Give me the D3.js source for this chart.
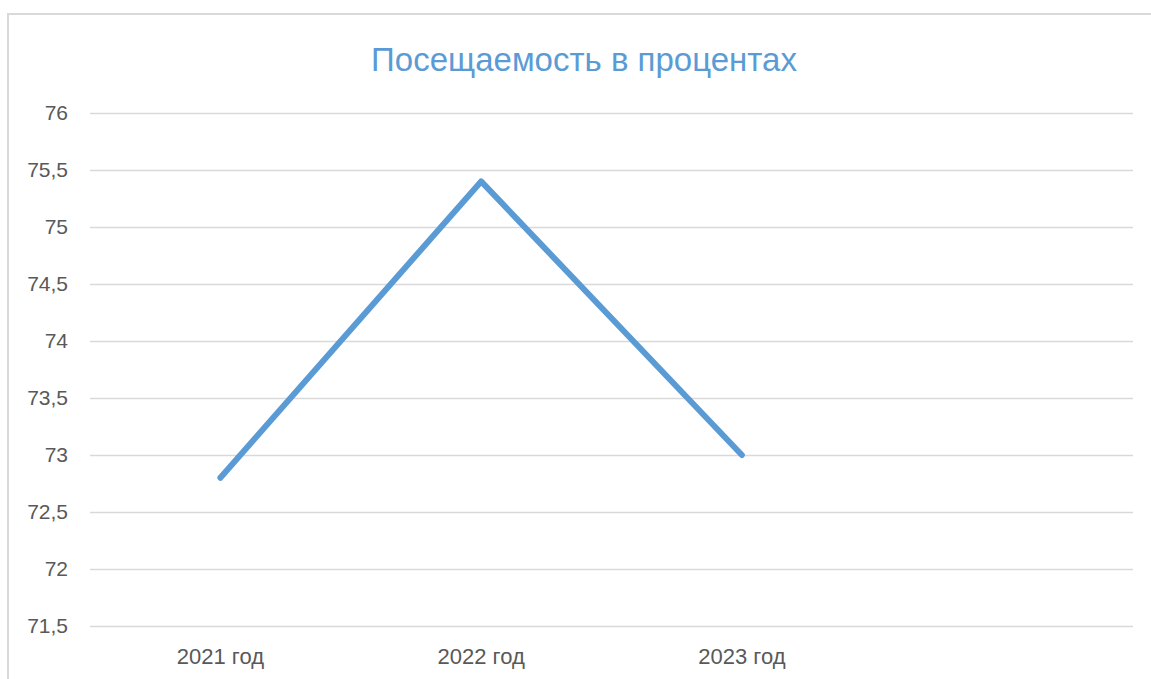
<!DOCTYPE html>
<html>
<head>
<meta charset="utf-8">
<script src="https://cdn.jsdelivr.net/npm/d3@7"></script>
<style>
  body { margin: 0; background: #fff; }
  text { font-family: "Liberation Sans", Arial, sans-serif; }
</style>
</head>
<body>
<svg id="chart" width="1151" height="679"></svg>
<script>
// data
var categories = ["2021 год", "2022 год", "2023 год", ""];
var values = [72.8, 75.4, 73];
var yTicks = [71.5, 72, 72.5, 73, 73.5, 74, 74.5, 75, 75.5, 76];
var title = "Посещаемость в процентах";

var svg = d3.select("#chart");
var margin = {top: 113, right: 18, bottom: 53, left: 90},
    width = +svg.attr("width") - margin.left - margin.right,
    height = +svg.attr("height") - margin.top - margin.bottom;

// chart border (only top and left show in the crop)
svg.append("path")
    .attr("d", "M8,679 L8,14 L1151,14")
    .attr("fill", "none")
    .attr("stroke", "#d9d9d9")
    .attr("stroke-width", 2);

svg.append("text")
    .attr("x", 584)
    .attr("y", 71)
    .attr("text-anchor", "middle")
    .attr("fill", "#5b9bd5")
    .style("font-size", "33px")
    .text(title);

var g = svg.append("g").attr("transform", "translate(" + margin.left + "," + margin.top + ")");

var x = d3.scaleBand()
    .domain(categories)
    .range([0, width])
    .padding(0);

var y = d3.scaleLinear()
    .domain([71.5, 76])
    .range([height, 0]);

var fmt = function(d) { return String(d).replace(".", ","); };

// grid lines + y labels
var yAxis = g.append("g")
    .attr("id", "yAxis")
    .call(d3.axisLeft(y).tickValues(yTicks).tickSize(-width).tickPadding(22).tickFormat(fmt));
yAxis.select(".domain").remove();
yAxis.selectAll(".tick line")
    .attr("stroke", "#d9d9d9")
    .attr("stroke-width", 1.5);
yAxis.selectAll(".tick text")
    .attr("fill", "#595959")
    .style("font-size", "21px");

// x labels
var xAxis = g.append("g")
    .attr("id", "xAxis")
    .attr("transform", "translate(0," + height + ")")
    .call(d3.axisBottom(x).tickSize(0).tickPadding(22));
xAxis.select(".domain").remove();
xAxis.selectAll(".tick text")
    .attr("fill", "#595959")
    .style("font-size", "22px");

var line = d3.line()
    .x(function(d, i) { return x(categories[i]) + x.bandwidth() / 2; })
    .y(function(d) { return y(d); });

g.append("path")
    .datum(values)
    .attr("fill", "none")
    .attr("stroke", "#5b9bd5")
    .attr("stroke-width", 6)
    .attr("stroke-linejoin", "round")
    .attr("stroke-linecap", "round")
    .attr("d", line);
</script>
</body>
</html>
